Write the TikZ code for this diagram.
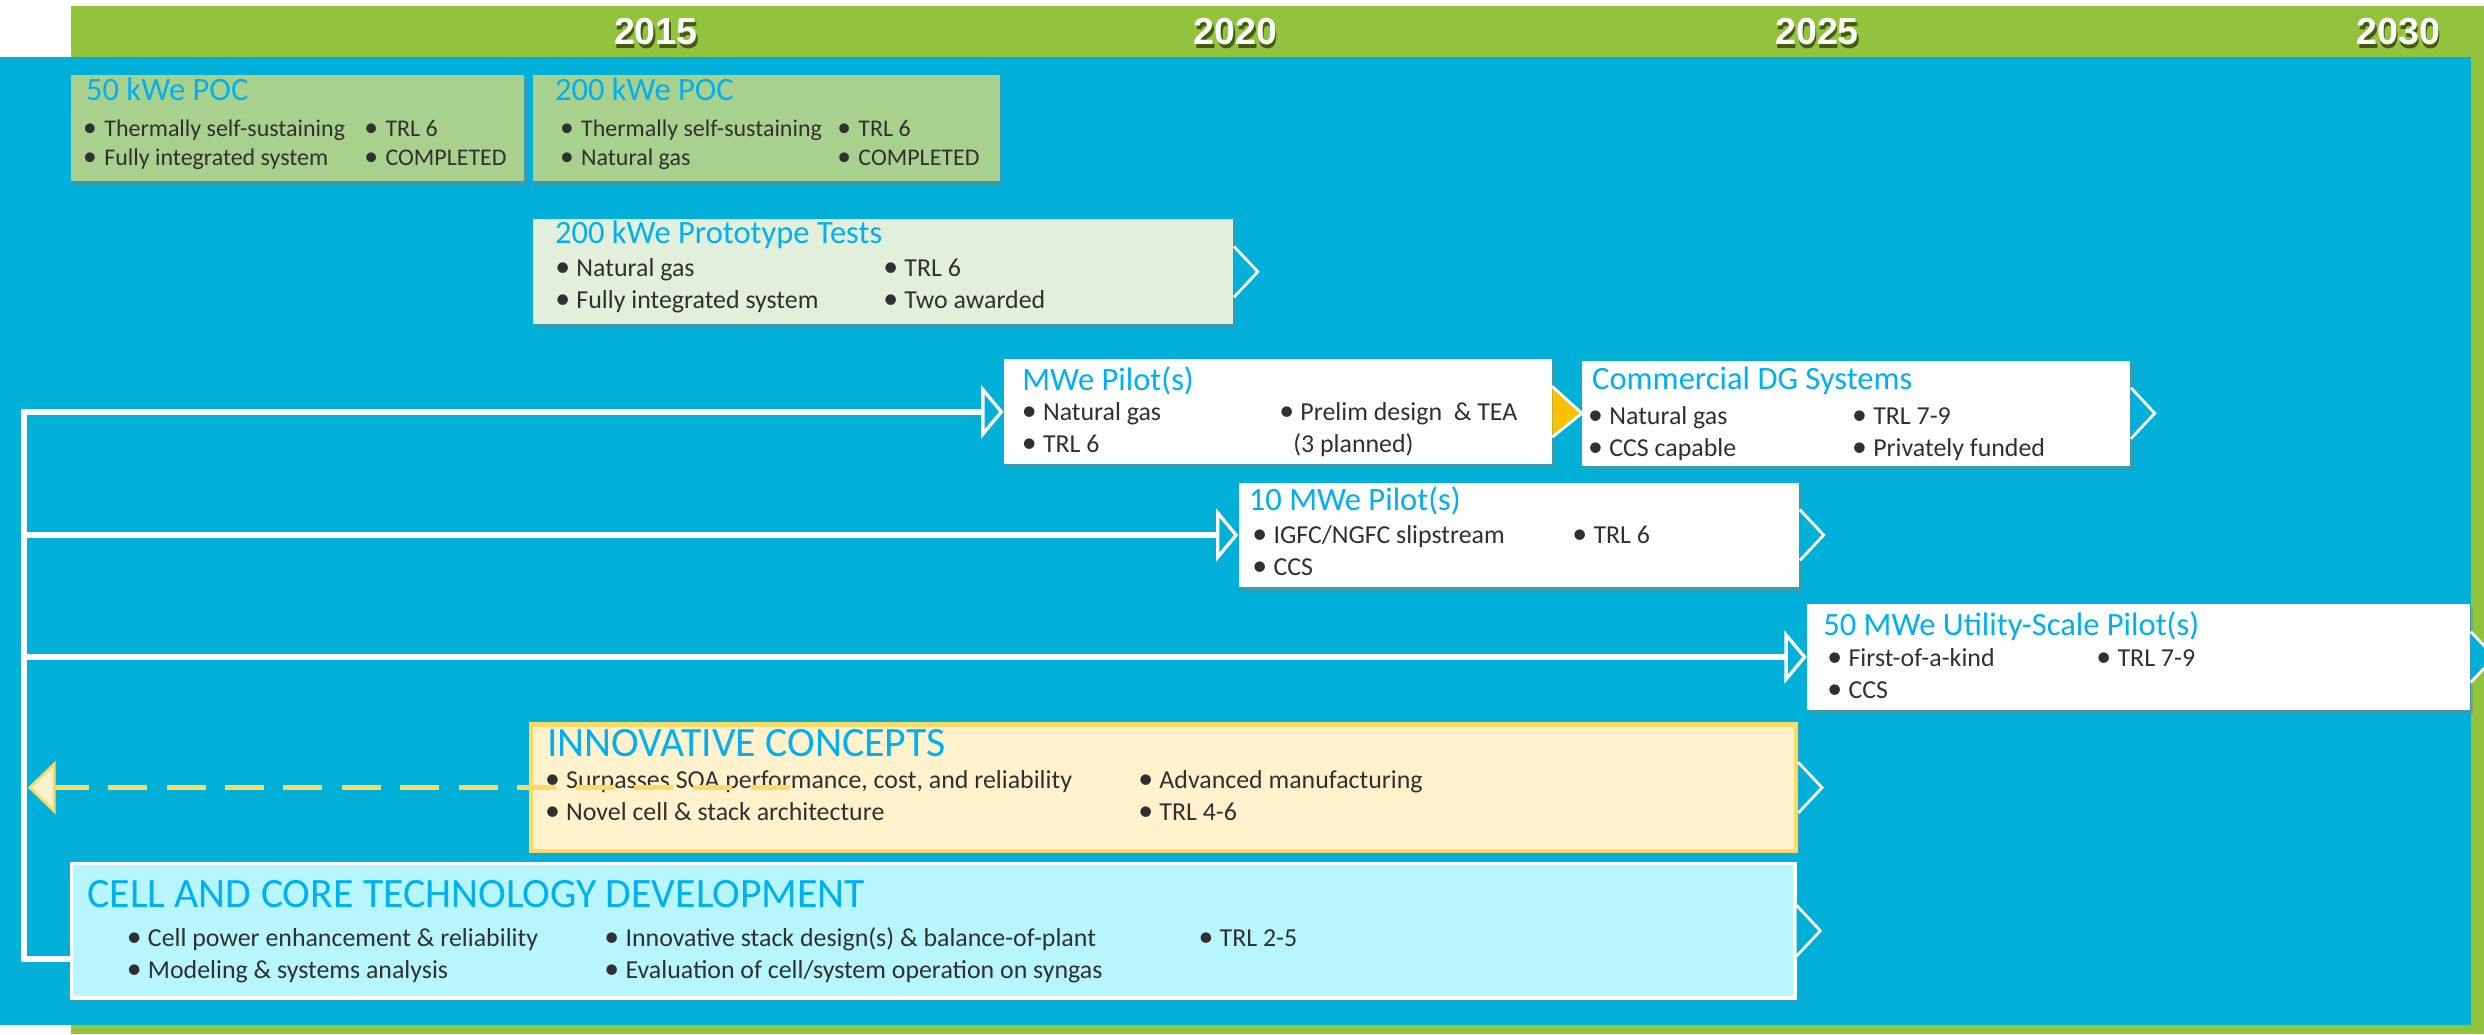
\documentclass[tikz,border=0pt]{standalone}
\usepackage{fontspec}
\setmainfont{Carlito}
\newfontfamily\yrfont{Liberation Sans}
\usetikzlibrary{arrows.meta,calc,fit,shadows}
\definecolor{bgblue}{RGB}{0,176,216}
\definecolor{hdrgreen}{RGB}{146,195,60}
\definecolor{pocgreen}{RGB}{169,209,142}
\definecolor{protogreen}{RGB}{226,239,218}
\definecolor{ttlblue}{RGB}{0,176,240}
\definecolor{txtgray}{RGB}{48,48,48}
\definecolor{innofill}{RGB}{255,242,204}
\definecolor{innoline}{RGB}{255,217,102}
\definecolor{cellfill}{RGB}{183,246,255}
\definecolor{chevorange}{RGB}{255,192,0}
\definecolor{yrshadow}{RGB}{70,90,20}

\newcommand\yr[1]{\rlap{\textcolor{yrshadow}{\raisebox{-1.5pt}{\hspace{.5pt}#1}}}#1}
\newcommand\chev[2][bgblue]{%
  \draw[chev, fill=#1] ($(#2.east)+(0,-16)$) -- ++(15,16) -- ++(-15,16);}

\tikzset{
  box/.style={inner sep=0pt, drop shadow={shadow xshift=1pt, shadow yshift=-1.3pt, opacity=.45}},
  ttl/.style={anchor=base west, inner sep=0pt, text=ttlblue, font=\fontsize{11.7}{14}\selectfont},
  bigttl/.style={ttl, font=\fontsize{15}{18}\selectfont},
  txt/.style={anchor=base west, inner sep=0pt, text=txtgray, font=\fontsize{9.3}{11}\selectfont},
  bul/.style={txt, execute at begin node={\makebox[6pt][l]{\kern-1.6pt\scalebox{1.15}{\textbullet}}}},
  small/.style={font=\fontsize{8.6}{10}\selectfont},
  year/.style={anchor=base, inner sep=0pt, text=white, font=\yrfont\bfseries\fontsize{13.5}{16}\selectfont},
  conn/.style={draw=white, line width=2pt, -{Triangle[length=8pt, width=19pt, fill=bgblue, line width=1.2pt]}},
  chev/.style={draw=white, line width=1pt, line join=miter},
  dashback/.style={draw=innoline, line width=1.8pt, dash pattern=on 14pt off 7pt,
    -{Triangle[length=10pt, width=19pt, fill=innofill, line width=1pt]}}
}

\begin{document}
\begin{tikzpicture}[x=0.02cm, y=-0.02cm]
\useasboundingbox (0,0) rectangle (1568,653);
\fill[white] (0,0) rectangle (1568,653);
\fill[hdrgreen] (45,4) rectangle (1568,653);
\fill[bgblue] (0,36) rectangle (1559.5,647);

\node[year] (y15) at (414,28) {\yr{2015}};
\node[year] (y20) at (780,28) {\yr{2020}};
\node[year] (y25) at (1147,28) {\yr{2025}};
\node[year] (y30) at (1514,28) {\yr{2030}};

\node[box, fill=pocgreen, fit={(45,47.3) (331,114.3)}] (poc50) {};
\node[ttl] at (54,63.6) {50 kWe POC};
\node[bul, small] at (55,86) {Thermally self-sustaining};
\node[bul, small] at (55,104.2) {Fully integrated system};
\node[bul, small] at (232.5,86) {TRL 6};
\node[bul, small] at (232.5,104.2) {COMPLETED};

\node[box, fill=pocgreen, fit={(336.5,47.3) (631,114.3)}] (poc200) {};
\node[ttl] at (350,63.6) {200 kWe POC};
\node[bul, small] at (356,86) {Thermally self-sustaining};
\node[bul, small] at (356,104.2) {Natural gas};
\node[bul, small] at (531,86) {TRL 6};
\node[bul, small] at (531,104.2) {COMPLETED};

\node[box, fill=protogreen, fit={(336.5,138.3) (778.6,204.8)}] (proto) {};
\node[ttl] at (350,153.6) {200 kWe Prototype Tests};
\node[bul] at (353,174.7) {Natural gas};
\node[bul] at (353,194.7) {Fully integrated system};
\node[bul] at (560,174.7) {TRL 6};
\node[bul] at (560,194.7) {Two awarded};
\chev{proto}

\node[box, fill=white, fit={(633.8,226.8) (979.5,293.1)}] (mwe) {};
\node[ttl] at (645,246.2) {MWe Pilot(s)};
\node[bul] at (647.5,265.5) {Natural gas};
\node[bul] at (647.5,285.5) {TRL 6};
\node[bul] at (810,265.5) {Prelim design~ \& TEA};
\node[txt] at (816,285.5) {(3 planned)};

\node[box, fill=white, fit={(998.9,227.7) (1344.8,294)}] (com) {};
\node[ttl] at (1004.7,245.6) {Commercial DG Systems};
\node[bul] at (1005,268) {Natural gas};
\node[bul] at (1005,288) {CCS capable};
\node[bul] at (1171.6,268) {TRL 7-9};
\node[bul] at (1171.6,288) {Privately funded};
\chev{com}
\draw[chev, fill=chevorange] ($(mwe.east)+(0,-16)$) -- (com.west) -- ($(mwe.east)+(0,16)$);

\node[box, fill=white, fit={(782,304.7) (1135.8,370.8)}] (mw10) {};
\node[ttl] at (788,322) {10 MWe Pilot(s)};
\node[bul] at (793,343) {IGFC/NGFC slipstream};
\node[bul] at (793,363) {CCS};
\node[bul] at (995,343) {TRL 6};
\chev{mw10}

\node[box, fill=white, fit={(1140.8,381.3) (1559.3,448.2)}] (mw50) {};
\node[ttl] at (1150.6,400.9) {50 MWe Utility-Scale Pilot(s)};
\node[bul] at (1156,420.9) {First-of-a-kind};
\node[bul] at (1156,440.9) {CCS};
\node[bul] at (1325.8,420.9) {TRL 7-9};
\chev{mw50}

\node[box, fill=innofill, draw=innoline, line width=1.5pt, fit={(335,457.3) (1133.8,537)}] (inno) {};
\node[bigttl] at (345,477.7) {INNOVATIVE CONCEPTS};
\node[bul] at (346.5,497.7) {Surpasses SOA performance, cost, and reliability};
\node[bul] at (346.5,517.7) {Novel cell \& stack architecture};
\node[bul] at (721,497.7) {Advanced manufacturing};
\node[bul] at (721,517.7) {TRL 4-6};
\chev{inno}

\node[box, fill=cellfill, draw=white, line width=1.2pt, fit={(45,545) (1133,630)}] (cell) {};
\node[bigttl] at (55,572.8) {CELL AND CORE TECHNOLOGY DEVELOPMENT};
\node[bul] at (82.5,597.6) {Cell power enhancement \& reliability};
\node[bul] at (82.5,617.6) {Modeling \& systems analysis};
\node[bul] at (384,597.6) {Innovative stack design(s) \& balance-of-plant};
\node[bul] at (384,617.6) {Evaluation of cell/system operation on syngas};
\node[bul] at (759,597.6) {TRL 2-5};
\chev{cell}

\coordinate (root) at (15,605.5);
\coordinate (ret) at (17.5,497);
\draw[conn] (cell.west |- root) -- (root) |- (mwe.west);
\draw[conn] (root |- mw10.west) -- (mw10.west);
\draw[conn] (root |- mw50.west) -- (mw50.west);
\draw[dashback] ($(inno.west)+(165,0)$) -- (ret |- inno.west);
\end{tikzpicture}
\end{document}
